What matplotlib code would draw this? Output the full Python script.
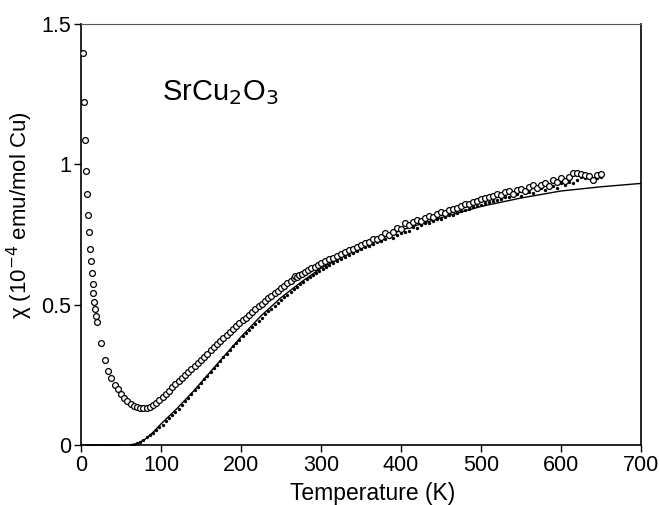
import matplotlib
matplotlib.use("Agg")
import matplotlib.pyplot as plt
from matplotlib.ticker import FixedLocator, FixedFormatter

# raw susceptibility (open circles)
T_raw = [3.0, 4.2, 5.4, 6.6, 7.8, 9.0, 10.2, 11.2, 12.2, 13.2, 14.4, 15.6, 16.8, 18.0, 19.2, 20.4,
         25, 30, 34, 38, 42, 46, 50, 54, 58, 62, 66, 70, 74, 78, 82, 86, 90, 94, 98,
         102, 106, 110, 114, 118, 122, 126, 130, 134, 138, 142, 146, 150, 154, 158, 162, 166,
         170, 174, 178, 182, 186, 190, 194, 198, 202, 206, 210, 214, 218, 222, 226, 230, 234,
         238, 242, 246, 250, 254, 258, 262, 266, 268, 270, 272,
         276, 280, 284, 288, 292, 296, 300, 305, 310, 315, 320, 325, 330, 335, 340, 345, 350,
         355, 360, 365, 370, 375, 380, 385, 390, 395, 400, 405, 410, 415, 420, 425, 430, 435,
         440, 445, 450, 455, 460, 465, 470, 475, 480, 485, 490, 495, 500, 505, 510, 515, 520,
         525, 530, 535, 540, 545, 550, 555, 560, 565, 570, 575, 580, 585, 590, 595, 600, 605,
         610, 615, 620, 625, 630, 635, 640, 645, 650]
chi_raw = [1.396, 1.221, 1.087, 0.977, 0.893, 0.819, 0.758, 0.699, 0.656, 0.614, 0.573, 0.540,
           0.511, 0.484, 0.460, 0.439,
           0.362, 0.303, 0.263, 0.238, 0.215, 0.198, 0.182, 0.168, 0.156, 0.147, 0.140, 0.135,
           0.132, 0.131, 0.132, 0.135, 0.142, 0.150, 0.160,
           0.172, 0.183, 0.194, 0.205, 0.216, 0.227, 0.238, 0.249, 0.260, 0.271, 0.282, 0.293,
           0.304, 0.315, 0.326, 0.337, 0.348, 0.359, 0.370, 0.381, 0.392, 0.403, 0.414, 0.424,
           0.434, 0.444, 0.454, 0.464, 0.474, 0.484, 0.494, 0.504, 0.513, 0.522, 0.531, 0.540,
           0.549, 0.558, 0.567, 0.576, 0.585, 0.594, 0.603, 0.598, 0.606,
           0.610, 0.617, 0.623, 0.629, 0.635, 0.641, 0.647, 0.654, 0.661, 0.668, 0.675, 0.681,
           0.688, 0.694, 0.700, 0.706, 0.712, 0.718, 0.724, 0.733, 0.735, 0.742, 0.755, 0.748,
           0.760, 0.772, 0.770, 0.790, 0.783, 0.795, 0.800, 0.798, 0.808, 0.815, 0.812, 0.822,
           0.830, 0.826, 0.838, 0.842, 0.845, 0.852, 0.858, 0.860, 0.866, 0.870, 0.876, 0.880,
           0.884, 0.886, 0.895, 0.890, 0.900, 0.904, 0.895, 0.908, 0.912, 0.905, 0.918, 0.925,
           0.915, 0.928, 0.935, 0.922, 0.945, 0.938, 0.950, 0.942, 0.955, 0.968, 0.970, 0.966,
           0.963, 0.960, 0.945, 0.962, 0.965]

# Curie-term subtracted susceptibility (filled dots)
T_sub = [3, 6, 9, 12, 15, 18, 21, 24, 27, 30, 33, 36, 39, 42, 45, 48, 51, 54, 57, 60, 63, 66,
         70, 74, 78, 82, 86, 90, 94, 98, 102, 106, 110, 114, 118, 122, 126, 130, 134, 138,
         142, 146, 150, 154, 158, 162, 166, 170, 174, 178, 182, 186, 190, 194, 198, 202, 206,
         210, 214, 218, 222, 226, 230, 234, 238, 242, 246, 250, 254, 258, 262, 266, 270, 274,
         278, 282, 286, 290, 294, 298, 302, 306, 310, 315, 320, 325, 330, 335, 340, 345, 350,
         355, 360, 365, 370, 375, 380, 385, 390, 395, 400, 405, 410, 415, 420, 425, 430, 435,
         440, 445, 450, 455, 460, 465, 470, 475, 480, 485, 490, 495, 500, 505, 510, 515, 520,
         525, 530, 535, 540, 545, 550, 555, 560, 565, 570, 575, 580, 585, 590, 595, 600, 605,
         610, 615, 620, 625, 630, 635, 640, 645, 650]
chi_sub = [-0.008, -0.004, -0.002, -0.002, -0.002, -0.003, -0.003, -0.003, -0.003, -0.003,
           -0.003, -0.003, -0.004, -0.004, -0.004, -0.005, -0.007, -0.008, -0.008, -0.006,
           -0.003, 0.001,
           0.006, 0.012, 0.019, 0.027, 0.035, 0.044, 0.053, 0.063, 0.073, 0.084, 0.095, 0.106,
           0.118, 0.130, 0.143, 0.156, 0.169, 0.182, 0.195, 0.208, 0.221, 0.234, 0.247, 0.260,
           0.273, 0.286, 0.299, 0.312, 0.325, 0.338, 0.351, 0.363, 0.375, 0.387, 0.399, 0.410,
           0.421, 0.432, 0.443, 0.454, 0.465, 0.476, 0.486, 0.496, 0.506, 0.516, 0.526, 0.536,
           0.546, 0.555, 0.564, 0.573, 0.582, 0.590, 0.598, 0.606, 0.614, 0.621, 0.628, 0.634,
           0.641, 0.649, 0.657, 0.664, 0.671, 0.678, 0.685, 0.691, 0.698, 0.704, 0.710, 0.716,
           0.722, 0.727, 0.733, 0.740, 0.738, 0.749, 0.755, 0.760, 0.764, 0.777, 0.772, 0.785,
           0.790, 0.790, 0.798, 0.806, 0.804, 0.812, 0.820, 0.818, 0.828, 0.832, 0.836, 0.842,
           0.848, 0.851, 0.856, 0.861, 0.866, 0.870, 0.874, 0.878, 0.884, 0.882, 0.890, 0.894,
           0.888, 0.899, 0.903, 0.898, 0.909, 0.915, 0.908, 0.918, 0.924, 0.914, 0.932, 0.928,
           0.938, 0.933, 0.944, 0.955, 0.952, 0.950, 0.940, 0.950, 0.955]

# spin-ladder fit (solid line)
T_fit = [0, 60, 70, 80, 90, 100, 120, 140, 160, 180, 200, 225, 250, 275, 300, 350, 400, 450,
         500, 550, 600, 650, 700]
chi_fit = [0.0, 0.0, 0.005, 0.02, 0.045, 0.075, 0.13, 0.19, 0.255, 0.32, 0.385, 0.46, 0.525,
           0.58, 0.63, 0.705, 0.765, 0.81, 0.85, 0.88, 0.905, 0.92, 0.932]

plt.rcParams["font.family"] = ["Liberation Sans", "DejaVu Sans"]

fig = plt.figure(figsize=(6.6, 5.05), dpi=100)
ax = fig.add_axes([0.1227, 0.1188, 0.8485, 0.8337])

ax.plot(T_fit, chi_fit, "-", color="black", linewidth=1.0, zorder=2)
ax.plot(T_sub, chi_sub, "o", color="black", markersize=2.4, markeredgewidth=0, zorder=3)
ax.plot(T_raw, chi_raw, "o", markerfacecolor="white", markeredgecolor="black",
        markersize=4.2, markeredgewidth=0.9, zorder=4)

ax.set_xlim(0, 700)
ax.set_ylim(0, 1.5)
ax.xaxis.set_major_locator(FixedLocator([0, 100, 200, 300, 400, 500, 600, 700]))
ax.yaxis.set_major_locator(FixedLocator([0, 0.5, 1, 1.5]))
ax.yaxis.set_major_formatter(FixedFormatter(["0", "0.5", "1", "1.5"]))
ax.tick_params(direction="out", length=5, width=1.0, labelsize=15.5, pad=2)

ax.spines["top"].set_linewidth(0.8)
ax.spines["top"].set_color("#555555")
for side in ["left", "bottom", "right"]:
    ax.spines[side].set_linewidth(1.2)

ax.set_xlabel("Temperature (K)", fontsize=16.5)
ax.xaxis.set_label_coords(0.52, -0.088)
ax.set_ylabel(r"χ (10$^{-4}$ emu/mol Cu)", fontsize=16)
ax.yaxis.set_label_coords(-0.082, 0.546)
ax.text(101, 1.23, r"SrCu$_2$O$_3$", fontsize=21)

fig.savefig("out.png", dpi=100)
